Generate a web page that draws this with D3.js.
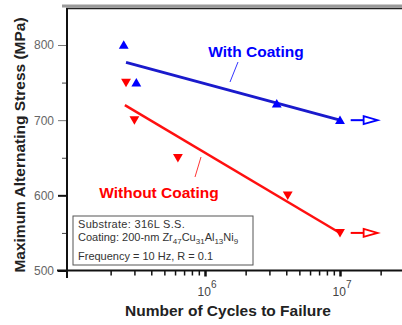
<!DOCTYPE html>
<html>
<head>
<meta charset="utf-8">
<script src="https://cdn.jsdelivr.net/npm/d3@7"></script>
<style>
  body { margin: 0; background: #fff; }
  svg { display: block; font-family: Arial, "Liberation Sans", sans-serif; }
</style>
</head>
<body>
<div id="chart"></div>
<script>
// data
var withX = [2.5e5, 3.1e5, 3.4e6, 1e7];
var withY = [800, 750, 722, 700];
var withoutX = [2.6e5, 3.0e5, 6.3e5, 4.1e6, 1e7];
var withoutY = [750, 700, 650, 600, 550];
var withFitX = [2.6e5, 1e7], withFitY = [777, 700];
var withoutFitX = [2.55e5, 1e7], withoutFitY = [720, 550];
var runoutX = [1.2e7, 1.9e7];
var yMajor = [500, 600, 700, 800];
var yMinor = [550, 650, 750];
var xMajor = [1e6, 1e7];
var xMinor = [2e5, 3e5, 4e5, 5e5, 6e5, 7e5, 8e5, 9e5, 2e6, 3e6, 4e6, 5e6, 6e6, 7e6, 8e6, 9e6, 2e7];

var width = 402, height = 325;
var left = 67, bottom = 270.5;

var x = d3.scaleLog().domain([1e5, 1e7]).range([70, 340]);
var y = d3.scaleLinear().domain([500, 800]).range([bottom, 45]);

var svg = d3.select("#chart").append("svg")
  .attr("width", width)
  .attr("height", height);

// frame
svg.append("line").attr("x1", 62).attr("x2", 402).attr("y1", 6).attr("y2", 6)
  .style("stroke", "#9a9a9a").style("stroke-width", 3);
svg.append("line").attr("x1", 66).attr("x2", 402).attr("y1", 8.5).attr("y2", 8.5)
  .style("stroke", "#222").style("stroke-width", 1.5);

// y axis
var yAxis = svg.append("g")
  .attr("transform", "translate(" + left + ",0)")
  .call(d3.axisLeft(y).tickValues(yMajor).tickSize(9).tickPadding(4).tickFormat(d3.format("d")));
yAxis.select(".domain").remove();
yAxis.selectAll(".tick line")
  .style("stroke", function (d) { return d <= 600 ? "#111" : "#777"; })
  .style("stroke-width", function (d) { return d <= 600 ? 2 : 1; });
yAxis.selectAll(".tick text").style("font-size", "12px").style("fill", "#666");
var yAxisMinor = svg.append("g")
  .attr("transform", "translate(" + left + ",0)")
  .call(d3.axisLeft(y).tickValues(yMinor).tickSize(5).tickFormat(""));
yAxisMinor.select(".domain").remove();
yAxisMinor.selectAll(".tick line").style("stroke", "#444");

// x axis
var xAxis = svg.append("g")
  .attr("transform", "translate(0," + bottom + ")")
  .call(d3.axisBottom(x).tickValues(xMajor).tickSize(6).tickFormat(""));
xAxis.select(".domain").remove();
xAxis.selectAll(".tick line").style("stroke", "#111").style("stroke-width", 2.5);
var xAxisMinor = svg.append("g")
  .attr("transform", "translate(0," + bottom + ")")
  .call(d3.axisBottom(x).tickValues(xMinor).tickSize(5).tickFormat(""));
xAxisMinor.select(".domain").remove();
xAxisMinor.selectAll(".tick line").style("stroke", "#111").style("stroke-width", 1.5);

xMajor.forEach(function (v) {
  var t = svg.append("text")
    .attr("x", x(v) + 2)
    .attr("y", 296)
    .attr("text-anchor", "middle")
    .style("font-size", "12px")
    .style("fill", "#444");
  t.append("tspan").text("10");
  t.append("tspan").attr("dy", -8).style("font-size", "10px").text(Math.round(Math.log10(v)));
});

svg.append("line").attr("x1", 57).attr("x2", 402).attr("y1", bottom).attr("y2", bottom)
  .style("stroke", "#111").style("stroke-width", 2);
svg.append("line").attr("x1", left).attr("x2", left).attr("y1", 8).attr("y2", 278)
  .style("stroke", "#111").style("stroke-width", 2);

// axis titles
svg.append("text")
  .attr("x", 228).attr("y", 316)
  .attr("text-anchor", "middle")
  .style("font-size", "15.5px").style("font-weight", "bold").style("fill", "#222")
  .text("Number of Cycles to Failure");
svg.append("text")
  .attr("transform", "translate(25,145)rotate(-90)")
  .attr("text-anchor", "middle")
  .style("font-size", "15.5px").style("font-weight", "bold").style("fill", "#222")
  .text("Maximum Alternating Stress (MPa)");

// fit lines
var line = d3.line()
  .x(function (d) { return x(d[0]); })
  .y(function (d) { return y(d[1]); });
svg.append("path")
  .datum(d3.zip(withFitX, withFitY))
  .attr("d", line)
  .style("fill", "none").style("stroke", "#1a1acc").style("stroke-width", 2.8);
svg.append("path")
  .datum(d3.zip(withoutFitX, withoutFitY))
  .attr("d", line)
  .style("fill", "none").style("stroke", "#ff1010").style("stroke-width", 2.4);

// markers
var tri = d3.symbol().type(d3.symbolTriangle).size(42);
svg.selectAll(".up")
  .data(d3.zip(withX, withY))
  .enter().append("path")
  .attr("class", "up")
  .attr("d", tri)
  .attr("transform", function (d) { return "translate(" + x(d[0]) + "," + (y(d[1]) + 1) + ")"; })
  .style("fill", "#0000ff");
svg.selectAll(".down")
  .data(d3.zip(withoutX, withoutY))
  .enter().append("path")
  .attr("class", "down")
  .attr("d", tri)
  .attr("transform", function (d) { return "translate(" + x(d[0]) + "," + (y(d[1]) - 1) + ")rotate(180)"; })
  .style("fill", "#ff0000");

// run-out arrows
function runout(val, color) {
  var x0 = x(runoutX[0]), x1 = x(runoutX[1]), yy = y(val);
  svg.append("line")
    .attr("x1", x0).attr("x2", x1 - 14).attr("y1", yy).attr("y2", yy)
    .style("stroke", color).style("stroke-width", 2);
  svg.append("path")
    .attr("d", "M" + (x1 - 14) + "," + (yy - 4) + "L" + x1 + "," + yy + "L" + (x1 - 14) + "," + (yy + 4) + "Z")
    .style("fill", "#fff").style("stroke", color).style("stroke-width", 1.8);
}
runout(withY[3], "#0000ff");
runout(withoutY[4], "#ff0000");

// series labels with leaders
svg.append("text")
  .attr("x", 256).attr("y", 57)
  .attr("text-anchor", "middle")
  .style("font-size", "15.5px").style("font-weight", "bold").style("fill", "#0000ff")
  .text("With Coating");
svg.append("line").attr("x1", 238).attr("y1", 62).attr("x2", 230).attr("y2", 82)
  .style("stroke", "#0000ff").style("stroke-width", 0.8);
svg.append("text")
  .attr("x", 159).attr("y", 198)
  .attr("text-anchor", "middle")
  .style("font-size", "15.5px").style("font-weight", "bold").style("fill", "#ff0000")
  .text("Without Coating");
svg.append("line").attr("x1", 201).attr("y1", 157).attr("x2", 195).attr("y2", 177)
  .style("stroke", "#ff0000").style("stroke-width", 0.8);

// info box
svg.append("rect")
  .attr("x", 73).attr("y", 216).attr("width", 180).attr("height", 49)
  .style("fill", "#fff").style("stroke", "#555").style("stroke-width", 1);
var info = svg.append("g").style("font-size", "11px").style("fill", "#333");
info.append("text").attr("x", 78).attr("y", 228).style("letter-spacing", "0.3px").text("Substrate: 316L S.S.");
var c = info.append("text").attr("x", 78).attr("y", 241);
c.append("tspan").text("Coating: 200-nm Zr");
c.append("tspan").attr("dy", 3).style("font-size", "8px").text("47");
c.append("tspan").attr("dy", -3).text("Cu");
c.append("tspan").attr("dy", 3).style("font-size", "8px").text("31");
c.append("tspan").attr("dy", -3).text("Al");
c.append("tspan").attr("dy", 3).style("font-size", "8px").text("13");
c.append("tspan").attr("dy", -3).text("Ni");
c.append("tspan").attr("dy", 3).style("font-size", "8px").text("9");
info.append("text").attr("x", 78).attr("y", 260).text("Frequency = 10 Hz, R = 0.1");
</script>
</body>
</html>
